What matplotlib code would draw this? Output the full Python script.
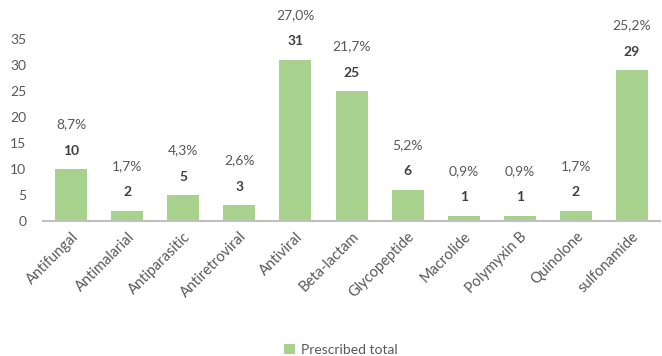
import matplotlib
matplotlib.use("Agg")
from matplotlib import pyplot as plt
import numpy as np

# Data
categories = ["Antifungal", "Antimalarial", "Antiparasitic", "Antiretroviral", "Antiviral",
              "Beta-lactam", "Glycopeptide", "Macrolide", "Polymyxin B", "Quinolone", "sulfonamide"]
counts = [10, 2, 5, 3, 31, 25, 6, 1, 1, 2, 29]
percents = ["8,7%", "1,7%", "4,3%", "2,6%", "27,0%", "21,7%", "5,2%", "0,9%", "0,9%", "1,7%", "25,2%"]
yticks = [0, 5, 10, 15, 20, 25, 30, 35]

bar_color = "#A9D18E"
text_color = "#595959"

plt.rcParams["font.family"] = ["Lato", "DejaVu Sans"]

fig = plt.figure(figsize=(6.62, 3.56), dpi=100)
ax = fig.add_axes([0.065, 0.379, 0.932, 0.511])

x = np.arange(len(categories))
bars = ax.bar(x, counts, width=0.57, color=bar_color, label="Prescribed total", zorder=2)

# Count labels (bold) and percent labels above
for xi, c, p in zip(x, counts, percents):
    ax.annotate(str(c), (xi, c), xytext=(0, 9), textcoords="offset points",
                ha="center", va="bottom", fontsize=10, fontweight="bold", color="#404040")
    ax.annotate(p, (xi, c), xytext=(0, 28), textcoords="offset points",
                ha="center", va="bottom", fontsize=10, color=text_color)

ax.set_xlim(-0.5, len(categories) - 0.5)
ax.set_ylim(0, 35)
ax.set_yticks(yticks)
ax.set_xticks(x)
ax.set_xticklabels(categories, rotation=45, ha="right", rotation_mode="anchor", fontsize=10.5)
ax.tick_params(axis="both", length=0, colors=text_color, labelsize=10)
ax.tick_params(axis="y", pad=12)
ax.tick_params(axis="x", pad=6)
for lbl in ax.get_xticklabels():
    lbl.set_fontsize(10.5)

for s in ["top", "right", "left"]:
    ax.spines[s].set_visible(False)
ax.spines["bottom"].set_color("#BFBFBF")
ax.spines["bottom"].set_linewidth(1.5)

fig.legend(handles=[bars], labels=["Prescribed total"], loc="lower center",
           bbox_to_anchor=(0.515, -0.035), frameon=False, fontsize=10,
           handlelength=0.8, handleheight=0.8, handletextpad=0.4, labelcolor=text_color)

fig.savefig("out.png", dpi=100)
